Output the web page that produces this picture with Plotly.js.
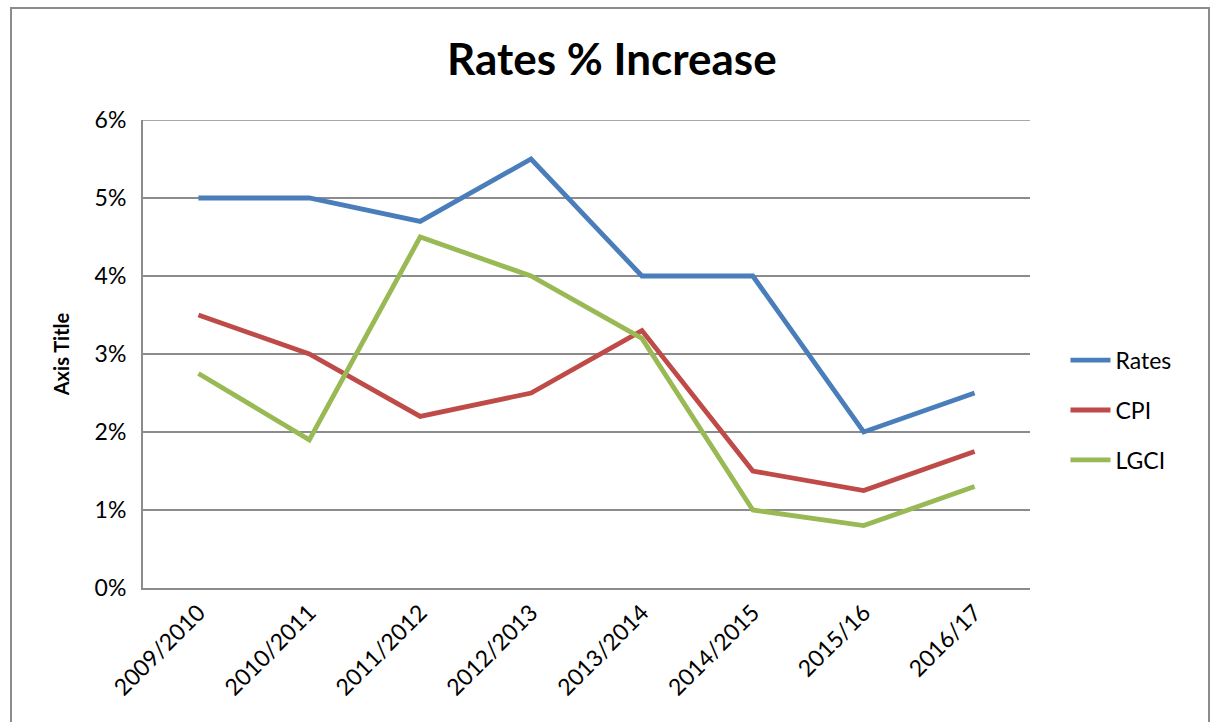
<!DOCTYPE html>
<html>
<head>
<meta charset="utf-8">
<script src="https://cdn.plot.ly/plotly-3.0.1.min.js"></script>
<style>
html, body { margin:0; padding:0; background:#fff; }
#wrap { position:relative; width:1214px; height:722px; overflow:hidden; }
#frame { position:absolute; left:10px; top:7px; width:1200px; height:740px; border:2px solid #8c8c8c; box-sizing:border-box; pointer-events:none; z-index:5; }
#chart { position:absolute; left:0; top:0; width:1214px; height:722px; }
</style>
</head>
<body>
<div id="wrap">
<div id="chart"></div>
<div id="frame"></div>
</div>
<script>
const categories = ["2009/2010","2010/2011","2011/2012","2012/2013","2013/2014","2014/2015","2015/16","2016/17"];
const rates = [0.05, 0.05, 0.047, 0.055, 0.04, 0.04, 0.02, 0.025];
const cpi   = [0.035, 0.03, 0.022, 0.025, 0.033, 0.015, 0.0125, 0.0175];
const lgci  = [0.0275, 0.019, 0.045, 0.04, 0.032, 0.01, 0.008, 0.013];

const font = "Lato, 'Open Sans', 'Liberation Sans', sans-serif";
const mk = (name, y, color) => ({
  type: "scatter", mode: "lines", name: name, x: categories, y: y,
  legendgroup: name,
  line: {color: color, width: 4.8}, hoverinfo: "skip"
});
const data = [
  mk("Rates", rates, "#4A7EBB"),
  mk("CPI", cpi, "#BE4B48"),
  mk("LGCI", lgci, "#98B954")
];
const layout = {
  width: 1214, height: 722,
  margin: {l: 143, r: 184, t: 120, b: 134},
  paper_bgcolor: "#fff", plot_bgcolor: "#fff",
  font: {family: font, color: "#000", size: 23},
  title: {text: "<b>Rates % Increase</b>", x: 0.504, xref: "container", xanchor: "center", y: 0.917, yref: "container", yanchor: "middle", font: {size: 44, family: font}},
  xaxis: {
    type: "category", range: [-0.5, 7.5], showgrid: false,
    showline: true, linecolor: "#8c8c8c", linewidth: 2,
    ticks: "", tickangle: -45, tickfont: {size: 23, family: font},
    fixedrange: true
  },
  yaxis: {
    range: [0, 0.06], dtick: 0.01, tickformat: ".0%",
    showgrid: true, gridcolor: "#8c8c8c", gridwidth: 1.5,
    showline: true, linecolor: "#8c8c8c", linewidth: 2,
    zeroline: false, ticks: "", ticklabelstandoff: 10,
    tickfont: {size: 23, family: font},
    title: {text: "<b>Axis Title</b>", font: {size: 20, family: font}, standoff: 20},
    fixedrange: true
  },
  shapes: [{type: "line", xref: "paper", yref: "y", x0: 0, x1: 1, y0: 0.06, y1: 0.06, line: {color: "#8c8c8c", width: 1.5}, layer: "below"}],
  showlegend: true,
  legend: {x: 1.04, xanchor: "left", y: 0.38, yanchor: "middle", font: {size: 23, family: font}, tracegroupgap: 17, itemwidth: 40, bgcolor: "rgba(0,0,0,0)"}
};
Plotly.newPlot("chart", data, layout, {displayModeBar: false, staticPlot: true});
</script>
</body>
</html>
